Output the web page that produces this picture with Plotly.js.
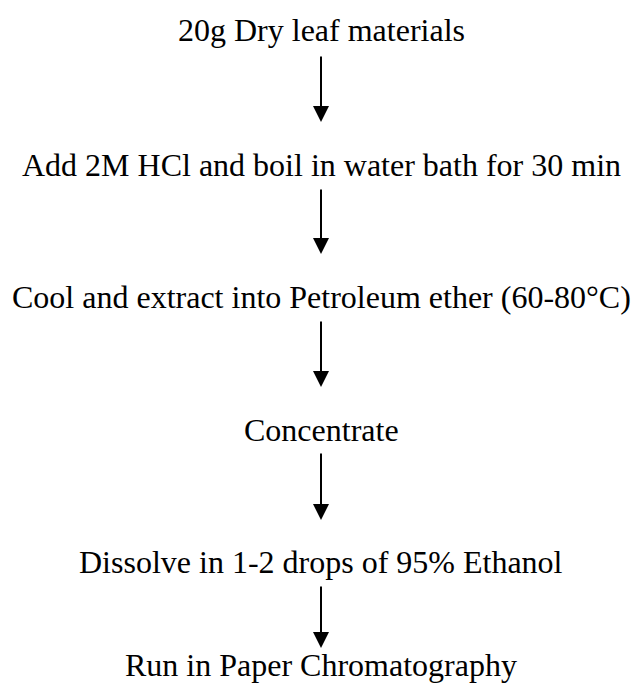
<!DOCTYPE html>
<html>
<head>
<meta charset="utf-8">
<script src="https://cdn.plot.ly/plotly-3.0.1.min.js"></script>
<style>html,body{margin:0;padding:0;background:#fff;}#chart{width:632px;height:691px;}</style>
</head>
<body>
<div id="chart"></div>
<script>
// ---- data ----
const steps = [
  "20g Dry leaf materials",
  "Add 2M HCl and boil in water bath for 30 min",
  "Cool and extract into Petroleum ether (60-80°C)",
  "Concentrate",
  "Dissolve in 1-2 drops of 95% Ethanol",
  "Run in Paper Chromatography"
];

// ---- layout (pixel-like coordinates of the drawing) ----
const W = 632, H = 691;
const centerX = 321;
const rowY = [30, 165, 297, 430, 562, 665];
const arrowTop = [55, 188, 320, 452, 585];
const arrowTip = [122, 254, 387, 520, 648];

const annotations = [];
steps.forEach((s, i) => {
  annotations.push({
    x: centerX, y: rowY[i], xref: 'x', yref: 'y',
    text: s, showarrow: false,
    xanchor: 'center', yanchor: 'middle',
    font: {family: 'Liberation Serif, Times New Roman, serif', size: 32, color: '#000'}
  });
});
for (let i = 0; i < steps.length - 1; i++) {
  annotations.push({
    x: centerX, y: arrowTip[i], xref: 'x', yref: 'y',
    ax: centerX, ay: arrowTop[i], axref: 'x', ayref: 'y',
    text: '', showarrow: true,
    arrowhead: 2, arrowsize: 1.6, arrowwidth: 2, arrowcolor: '#000',
    standoff: 0, startstandoff: 0
  });
}

const layout = {
  width: W, height: H,
  margin: {l: 0, r: 0, t: 0, b: 0},
  paper_bgcolor: '#fff', plot_bgcolor: '#fff',
  showlegend: false,
  font: {family: 'Liberation Serif, Times New Roman, serif'},
  xaxis: {range: [0, W], visible: false, fixedrange: true},
  yaxis: {range: [H, 0], visible: false, fixedrange: true},
  annotations: annotations
};

Plotly.newPlot('chart', [{x: [], y: [], type: 'scatter', mode: 'markers', hoverinfo: 'skip'}], layout, {displayModeBar: false, staticPlot: true});
</script>
</body>
</html>
